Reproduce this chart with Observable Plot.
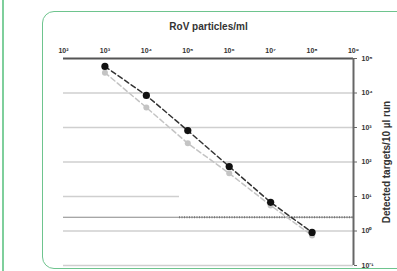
<!DOCTYPE html>
<html><head><meta charset="utf-8">
<script src="https://cdn.jsdelivr.net/npm/d3@7"></script>
<script src="https://cdn.jsdelivr.net/npm/@observablehq/plot@0.6"></script>
<style>
body{margin:0;background:#fff;}
#wrap{position:relative;width:397px;height:271px;overflow:hidden;font-family:"Liberation Sans",Arial,sans-serif;}
#lline{position:absolute;left:2px;top:0;width:2px;height:271px;background:#7fcf9c;}
#box{position:absolute;left:42px;top:11px;width:400px;height:256px;border:1.5px solid #6ec48e;border-radius:12px;}
#chart{position:absolute;left:0;top:0;}
</style></head>
<body><div id="wrap"><div id="lline"></div><div id="box"></div><div id="chart"></div></div>
<script>
const particles = [1e3, 1e4, 1e5, 1e6, 1e7, 1e8];
const detectedA = [58900, 8500, 813, 74, 6.8, 0.91];
const detectedB = [38900, 3800, 347, 47, 5.5, 0.74];
const xTicks = [1e2, 1e3, 1e4, 1e5, 1e6, 1e7, 1e8, 1e9];
const yTicks = [1e5, 1e4, 1e3, 1e2, 1e1, 1e0, 1e-1];
const gridFull = [1e4, 1e3, 1e2, 1e0, 1e-1];
const gridPartial = [1e1];
const cutoff = 2.5;

const sup = {"0":"⁰","1":"¹","2":"²","3":"³","4":"⁴","5":"⁵","6":"⁶","7":"⁷","8":"⁸","9":"⁹","-":"⁻"};
const fmt = v => "10" + String(Math.round(Math.log10(v))).split("").map(c => sup[c]).join("");

const A = particles.map((x, i) => ({x, y: detectedA[i]}));
const B = particles.map((x, i) => ({x, y: detectedB[i]}));

const plot = Plot.plot({
  width: 397, height: 271,
  marginLeft: 63, marginRight: 44, marginTop: 58, marginBottom: 6,
  style: {fontFamily: "'Liberation Sans', Arial, sans-serif", fontWeight: "bold", color: "#333", background: "transparent"},
  x: {type: "log", domain: [1e2, 1e9]},
  y: {type: "log", domain: [1e-1, 1e5]},
  marks: [
    Plot.ruleY(gridFull, {stroke: "#cfcfcf", strokeWidth: 1.6}),
    Plot.ruleY(gridPartial, {x1: 1e2, x2: 10**4.8, stroke: "#cfcfcf", strokeWidth: 1.6}),
    Plot.ruleY([cutoff], {stroke: "#888", strokeWidth: 1.2}),
    Plot.ruleY([cutoff], {x1: 10**4.8, x2: 1e9, stroke: "#777", strokeWidth: 2, strokeDasharray: "1,1.5"}),
    Plot.ruleY([1e5], {stroke: "#555", strokeWidth: 2}),
    Plot.ruleX([1e9], {y1: 1e-1, y2: 1e5, stroke: "#666", strokeWidth: 2}),
    Plot.line(B, {x: "x", y: "y", stroke: "#c4c4c4", strokeWidth: 1.5, strokeDasharray: "5,3"}),
    Plot.dot(B, {x: "x", y: "y", r: 3, fill: "#c4c4c4"}),
    Plot.line(A, {x: "x", y: "y", stroke: "#333", strokeWidth: 1.5, strokeDasharray: "5,3"}),
    Plot.dot(A, {x: "x", y: "y", r: 3.6, fill: "#111"}),
    Plot.axisX(xTicks, {anchor: "top", tickSize: 0, tickPadding: 6, tickFormat: fmt, fontSize: 7,
      label: "RoV particles/ml", labelArrow: "none", labelAnchor: "center", labelOffset: 36}),
    Plot.axisY(yTicks, {anchor: "right", tickSize: 3, tickPadding: 5, tickFormat: fmt, fontSize: 7, stroke: "#666",
      label: "Detected targets/10 µl run", labelArrow: "none", labelAnchor: "center", labelOffset: 36})
  ]
});
document.getElementById("chart").appendChild(plot);
plot.querySelectorAll("g[aria-label='x-axis label'] text, g[aria-label='y-axis label'] text").forEach(t => {
  t.setAttribute("font-size", "10");
  t.textContent = t.textContent.replace(/\s*[→↑←↓]\s*/g, "");
});
</script></body></html>
